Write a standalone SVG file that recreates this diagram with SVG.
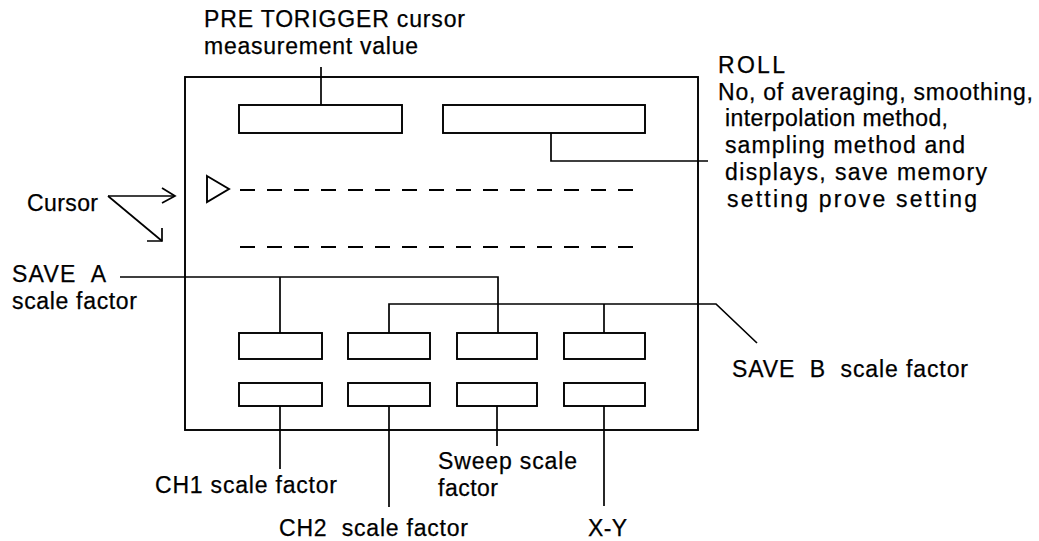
<svg xmlns="http://www.w3.org/2000/svg" width="1039" height="541" viewBox="0 0 1039 541">
<style>
.box{fill:none;stroke:#000;stroke-width:1.9}
.ln{fill:none;stroke:#000;stroke-width:1.7}
.dash{fill:none;stroke:#000;stroke-width:2;stroke-dasharray:15 12}
text{font-family:"Liberation Sans",Arial,Helvetica,sans-serif;font-size:23px;fill:#000;stroke:#000;stroke-width:0.25;white-space:pre}
</style>
<rect width="1039" height="541" fill="#fff"/>
<g id="screen"><rect class="box" x="185" y="77" width="513" height="353"/></g>
<g id="pretrigger-box"><rect class="box" x="239" y="105" width="163" height="28"/></g>
<g id="roll-box"><rect class="box" x="443" y="105" width="202" height="28"/></g>
<g id="cursor-marker"><polygon class="box" points="207,176 229,189 207,202"/></g>
<g id="cursor-line-1"><line class="dash" x1="240" y1="190" x2="633" y2="190"/></g>
<g id="cursor-line-2"><line class="dash" x1="240" y1="247" x2="633" y2="247"/></g>
<g id="ch1-save-a"><rect class="box" x="239" y="333" width="83" height="26"/></g>
<g id="ch2-save-b"><rect class="box" x="348" y="333" width="82" height="26"/></g>
<g id="sweep-save-a"><rect class="box" x="457" y="333" width="80" height="26"/></g>
<g id="xy-save-b"><rect class="box" x="564" y="333" width="81" height="26"/></g>
<g id="ch1"><rect class="box" x="239" y="383" width="83" height="23"/></g>
<g id="ch2"><rect class="box" x="348" y="383" width="82" height="23"/></g>
<g id="sweep"><rect class="box" x="457" y="383" width="80" height="23"/></g>
<g id="xy"><rect class="box" x="564" y="383" width="81" height="23"/></g>
<g id="connectors">
<line class="ln" x1="321" y1="67" x2="321" y2="105"/>
<polyline class="ln" points="551,133 551,161 708,161"/>
<line class="ln" x1="108" y1="196" x2="175" y2="196"/>
<polyline class="ln" points="162,188 175,196 162,203"/>
<line class="ln" x1="108" y1="196" x2="162" y2="241"/>
<polyline class="ln" points="162,228 162,241 147,241"/>
<polyline class="ln" points="120,277 498,277 498,333"/>
<line class="ln" x1="280" y1="277" x2="280" y2="333"/>
<polyline class="ln" points="389,333 389,304 716,304 757,343"/>
<line class="ln" x1="604" y1="304" x2="604" y2="333"/>
<line class="ln" x1="280" y1="406" x2="280" y2="469"/>
<line class="ln" x1="389" y1="406" x2="389" y2="507"/>
<line class="ln" x1="497" y1="406" x2="497" y2="446"/>
<line class="ln" x1="604" y1="406" x2="604" y2="506"/>
</g>
<g id="labels">
<text x="204" y="27" textLength="261" lengthAdjust="spacing">PRE TORIGGER cursor</text>
<text x="204" y="54" textLength="214" lengthAdjust="spacing">measurement value</text>
<text x="718" y="73" textLength="67" lengthAdjust="spacing">ROLL</text>
<text x="718" y="100" textLength="315" lengthAdjust="spacing">No, of averaging, smoothing,</text>
<text x="725" y="126" textLength="223" lengthAdjust="spacing">interpolation method,</text>
<text x="725" y="153" textLength="240" lengthAdjust="spacing">sampling method and</text>
<text x="725" y="180" textLength="262" lengthAdjust="spacing">displays, save memory</text>
<text x="727" y="207" textLength="250" lengthAdjust="spacing">setting prove setting</text>
<text x="27" y="211" textLength="71" lengthAdjust="spacing">Cursor</text>
<text x="12" y="282" textLength="94" lengthAdjust="spacing" xml:space="preserve">SAVE  A</text>
<text x="12" y="309" textLength="125" lengthAdjust="spacing">scale factor</text>
<text x="732" y="377" textLength="236" lengthAdjust="spacing" xml:space="preserve">SAVE  B  scale factor</text>
<text x="155" y="493" textLength="182" lengthAdjust="spacing">CH1 scale factor</text>
<text x="279" y="536" textLength="189" lengthAdjust="spacing" xml:space="preserve">CH2  scale factor</text>
<text x="438" y="469" textLength="139" lengthAdjust="spacing">Sweep scale</text>
<text x="438" y="496" textLength="60" lengthAdjust="spacing">factor</text>
<text x="588" y="536" textLength="39" lengthAdjust="spacing">X-Y</text>
</g>
</svg>
